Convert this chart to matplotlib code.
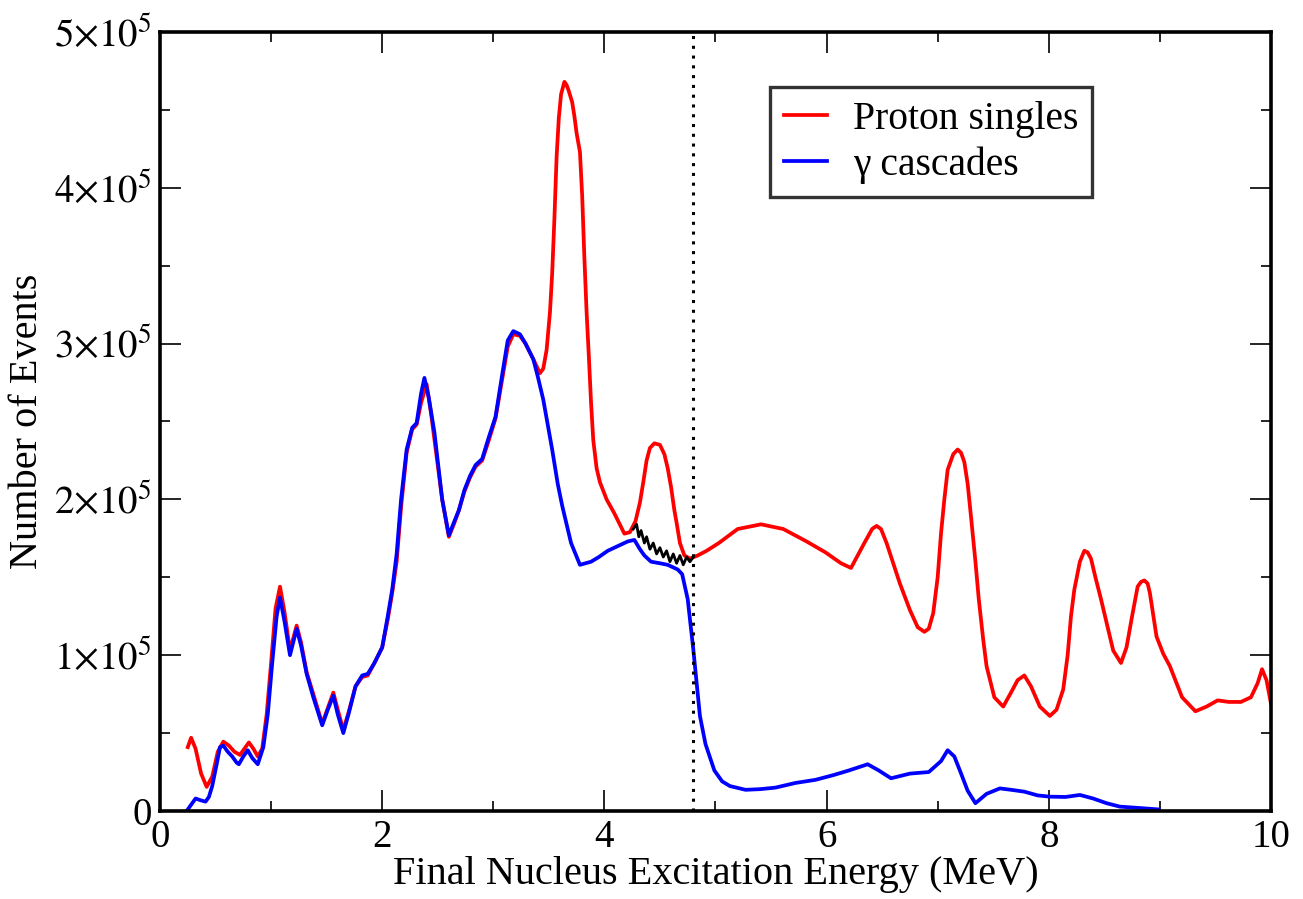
import matplotlib
matplotlib.use('Agg')
import matplotlib.pyplot as plt
from matplotlib.ticker import MultipleLocator, FuncFormatter

plt.rcParams['font.family'] = ['Liberation Serif', 'DejaVu Serif']
plt.rcParams['mathtext.fontset'] = 'stix'

# Proton singles (x in MeV, counts in thousands)
red_x = [0.25, 0.28, 0.32, 0.37, 0.42, 0.47, 0.52, 0.57, 0.62, 0.67, 0.72, 0.76, 0.80, 0.84, 0.88,
         0.92, 0.96, 1.00, 1.04, 1.08, 1.12, 1.17, 1.23, 1.27, 1.32, 1.38, 1.46, 1.51, 1.56, 1.60,
         1.65, 1.70, 1.76, 1.82, 1.87, 1.93, 2.00, 2.05, 2.09, 2.13, 2.17, 2.22, 2.27, 2.31, 2.35,
         2.40, 2.44, 2.48, 2.54, 2.60, 2.65, 2.69, 2.74, 2.79, 2.84, 2.90, 2.96, 3.02, 3.08, 3.13,
         3.18, 3.24, 3.29, 3.36, 3.42, 3.45, 3.48, 3.51, 3.53, 3.55, 3.57, 3.59, 3.61, 3.64, 3.66,
         3.68, 3.71, 3.73, 3.75, 3.78, 3.80, 3.82, 3.84, 3.86, 3.88, 3.90, 3.93, 3.96, 4.02, 4.09,
         4.18, 4.23, 4.28, 4.32, 4.35, 4.38, 4.41, 4.45, 4.50, 4.54, 4.57, 4.60, 4.63, 4.65, 4.68,
         4.72, 4.77, 4.84, 4.92, 5.03, 5.20, 5.41, 5.61, 5.82, 5.99, 6.13, 6.22, 6.34, 6.41, 6.45,
         6.49, 6.54, 6.66, 6.75, 6.82, 6.88, 6.92, 6.96, 7.00, 7.03, 7.06, 7.09, 7.14, 7.18, 7.21,
         7.24, 7.27, 7.30, 7.34, 7.37, 7.41, 7.44, 7.51, 7.59, 7.66, 7.72, 7.78, 7.84, 7.92, 8.01,
         8.07, 8.13, 8.17, 8.20, 8.23, 8.28, 8.32, 8.35, 8.38, 8.42, 8.47, 8.58, 8.65, 8.70, 8.75,
         8.80, 8.83, 8.86, 8.89, 8.91, 8.94, 8.97, 9.03, 9.09, 9.20, 9.32, 9.42, 9.52, 9.62, 9.73,
         9.82, 9.88, 9.92, 9.96, 10.0]
red_k = [41, 47, 40, 24, 15.5, 22, 38, 44.5, 42, 38, 36, 40, 44, 40, 35,
         40, 62, 95, 130, 144, 128, 103, 119, 108, 89, 75, 56, 66, 76, 65,
         52, 64, 80, 86, 87, 95, 105, 123, 140, 160, 195, 230, 245, 248, 262,
         274, 255, 233, 200, 176, 185, 193, 205, 214, 221, 225, 238, 252, 277, 298,
         306, 305, 300, 290, 281, 284, 296, 320, 345, 380, 420, 445, 460, 468, 466,
         462, 455, 446, 435, 423, 395, 355, 320, 292, 262, 238, 220, 211, 200, 191,
         178, 179, 186, 198, 211, 225, 233, 236, 235, 229, 220, 208, 193, 185, 172,
         164, 162, 164, 167, 172, 181, 184, 181, 173, 166, 159, 156, 172, 181, 183,
         181, 172, 146, 129, 118, 115, 117, 127, 150, 178, 200, 219, 229, 232, 230,
         224, 210, 189, 160, 136, 110, 93, 73, 67, 76, 84, 87, 80, 67, 61,
         65, 78, 100, 125, 142, 160, 167, 166, 162, 150, 136, 103, 95, 105, 125,
         144, 147, 148, 146, 140, 126, 112, 101, 93, 73, 64, 67, 71, 70, 70,
         73, 82, 91, 84, 69]

# gamma cascades
blue_x = [0.25, 0.28, 0.32, 0.36, 0.41, 0.44, 0.47, 0.51, 0.54, 0.57, 0.61, 0.65, 0.69, 0.71, 0.75,
          0.79, 0.83, 0.88, 0.93, 0.97, 1.01, 1.05, 1.08, 1.12, 1.17, 1.23, 1.27, 1.32, 1.38, 1.46,
          1.51, 1.56, 1.60, 1.65, 1.70, 1.76, 1.82, 1.87, 1.93, 2.00, 2.05, 2.09, 2.13, 2.17, 2.22,
          2.27, 2.31, 2.35, 2.38, 2.42, 2.47, 2.54, 2.60, 2.65, 2.69, 2.74, 2.79, 2.84, 2.90, 2.96,
          3.02, 3.08, 3.13, 3.18, 3.24, 3.29, 3.36, 3.40, 3.45, 3.53, 3.58, 3.62, 3.70, 3.78, 3.88,
          3.95, 4.03, 4.12, 4.21, 4.27, 4.32, 4.36, 4.42, 4.50, 4.57, 4.66, 4.70, 4.75, 4.80, 4.86,
          4.91, 4.99, 5.06, 5.13, 5.27, 5.40, 5.54, 5.72, 5.90, 6.06, 6.20, 6.37, 6.47, 6.58, 6.75,
          6.92, 7.03, 7.09, 7.15, 7.20, 7.27, 7.34, 7.44, 7.56, 7.67, 7.78, 7.90, 8.01, 8.15, 8.28,
          8.40, 8.52, 8.64, 8.80, 8.99]
blue_k = [1, 4, 8, 7, 6, 9, 16, 30, 41, 42, 38, 35, 31, 30, 35,
          39, 34, 30, 41, 62, 95, 125, 137, 122, 100, 117, 106, 88, 73, 55,
          65, 74, 62, 50, 63, 80, 87, 88, 95, 105, 125, 142, 165, 200, 232,
          246, 249, 268, 278, 265, 243, 200, 177, 186, 193, 206, 215, 222, 226, 240,
          253, 280, 302, 308, 306, 300, 290, 279, 264, 232, 210, 196, 172, 158, 160,
          163, 167, 170, 173, 174, 168, 164, 160, 159, 158, 155, 152, 136, 104, 61,
          43, 26, 19, 16, 13.6, 14, 15, 18, 20, 23, 26, 30, 26, 21, 24,
          25, 32, 39, 35, 26, 13, 5, 11, 14.5, 13.5, 12.4, 10, 9.2, 9, 10.3,
          8, 5, 2.8, 2, 1]

# short black segment between the two
black_x = [4.26, 4.29, 4.31, 4.33, 4.36, 4.38, 4.41, 4.44, 4.47, 4.50, 4.53, 4.56, 4.59, 4.62,
           4.65, 4.68, 4.71, 4.74, 4.77, 4.80]
black_k = [181, 184, 176, 180, 172, 176, 168, 172, 165, 169, 163, 167, 160, 165,
           159, 164, 158, 163, 160, 163]

cut_energy = 4.8

fig = plt.figure(figsize=(13.03, 8.99), dpi=100)
ax = fig.add_axes([0.1228, 0.0979, 0.8526, 0.8665])

ax.plot(red_x, [v * 1000 for v in red_k], color='red', lw=2.7, label='Proton singles')
ax.plot(blue_x, [v * 1000 for v in blue_k], color='blue', lw=2.7, label='\u03b3 cascades')
ax.plot(black_x, [v * 1000 for v in black_k], color='black', lw=2.0)
ax.axvline(cut_energy, color='black', lw=2.2, ls=(0, (1, 2.2)))

ax.set_xlim(0, 10)
ax.set_ylim(0, 5e5)
ax.xaxis.set_major_locator(MultipleLocator(2))
ax.xaxis.set_minor_locator(MultipleLocator(1))
ax.yaxis.set_major_locator(MultipleLocator(1e5))
ax.yaxis.set_minor_locator(MultipleLocator(0.5e5))


def yfmt(v, pos):
    n = int(round(v / 1e5))
    if n == 0:
        return '0'
    return r'$%d{\times}10^{5}$' % n


ax.yaxis.set_major_formatter(FuncFormatter(yfmt))
ax.tick_params(which='both', direction='in', top=True, right=True, labelsize=28, width=1.2)
ax.tick_params(which='major', length=15, pad=6)
ax.tick_params(which='minor', length=7.5)
for s in ax.spines.values():
    s.set_linewidth(2.6)

ax.set_xlabel('Final Nucleus Excitation Energy (MeV)', fontsize=29, labelpad=0)
ax.set_ylabel('Number of Events', fontsize=29, labelpad=6)

leg = ax.legend(loc='upper left', bbox_to_anchor=(0.549, 0.929), fontsize=28.5, frameon=True,
                fancybox=False, edgecolor='black', handlelength=1.1, handletextpad=0.65,
                borderpad=0.35, labelspacing=0.2, borderaxespad=0)
leg.get_frame().set_linewidth(2.4)

fig.savefig('out.png', dpi=100)
